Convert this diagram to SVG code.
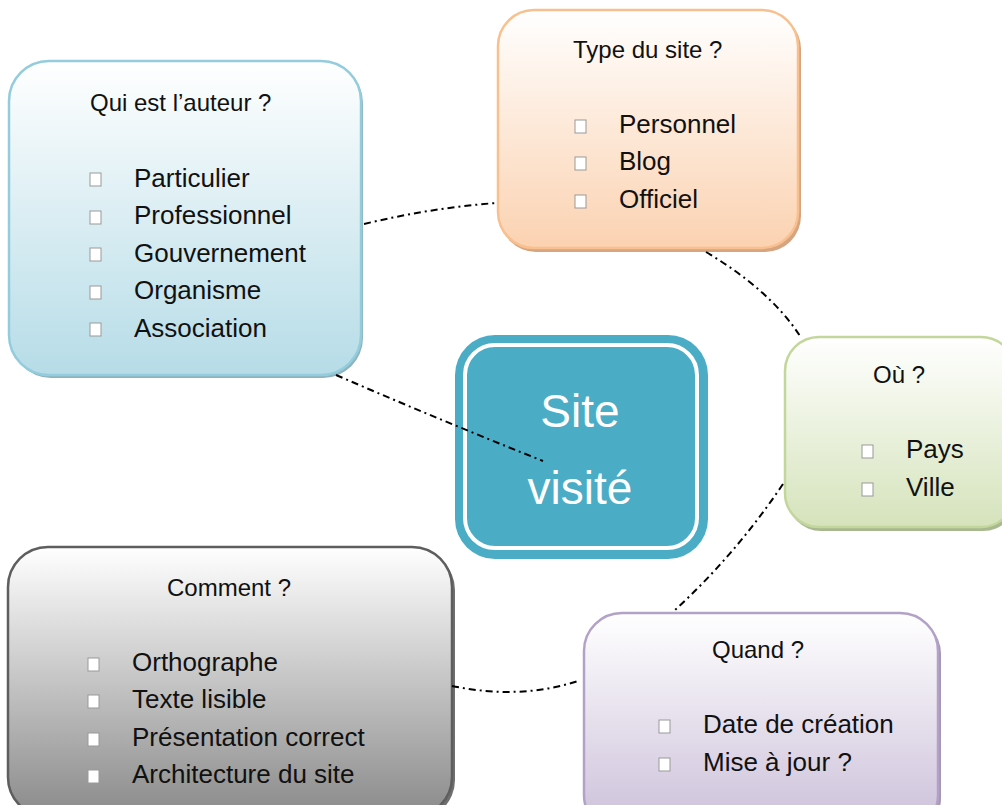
<svg xmlns="http://www.w3.org/2000/svg" width="1002" height="805" viewBox="0 0 1002 805">
<style>
  text { font-family: "Liberation Sans", Arial, sans-serif; fill: #111; }
  .h { font-size: 24px; }
  .li { font-size: 26px; }
  .big { font-size: 46px; fill: #fff; text-anchor: middle; }
  .bx { fill: #fff; stroke: #999; stroke-width: 1; }
  .conn { fill: none; stroke: #000; stroke-width: 2; stroke-dasharray: 7 4 2 4; }
</style>
<defs>
  <linearGradient id="gBlue" x1="0" y1="0" x2="0" y2="1"><stop offset="0" stop-color="#ffffff"/><stop offset="1" stop-color="#b6dce7"/></linearGradient>
  <linearGradient id="gOrange" x1="0" y1="0" x2="0" y2="1"><stop offset="0" stop-color="#ffffff"/><stop offset="1" stop-color="#fbd2b1"/></linearGradient>
  <linearGradient id="gGreen" x1="0" y1="0" x2="0" y2="1"><stop offset="0" stop-color="#ffffff"/><stop offset="1" stop-color="#d5e3bb"/></linearGradient>
  <linearGradient id="gGray" x1="0" y1="0" x2="0" y2="1"><stop offset="0" stop-color="#ffffff"/><stop offset="1" stop-color="#8a8a8a"/></linearGradient>
  <linearGradient id="gPurple" x1="0" y1="0" x2="0" y2="1"><stop offset="0" stop-color="#ffffff"/><stop offset="1" stop-color="#cbbfd9"/></linearGradient>
</defs>

<g id="node-qui">
  <rect x="11" y="63" width="352" height="315" rx="40" fill="#8fb3bd"/>
  <rect x="9" y="61" width="352" height="314" rx="40" fill="url(#gBlue)" stroke="#93cddd" stroke-width="2.5"/>
  <text class="h" x="90" y="111">Qui  est l’auteur ?</text>
  <rect class="bx" x="90" y="173" width="11" height="13"/>
  <rect class="bx" x="90" y="211" width="11" height="13"/>
  <rect class="bx" x="90" y="248" width="11" height="13"/>
  <rect class="bx" x="90" y="286" width="11" height="13"/>
  <rect class="bx" x="90" y="323" width="11" height="13"/>
  <text class="li" x="134" y="187">Particulier</text>
  <text class="li" x="134" y="224">Professionnel</text>
  <text class="li" x="134" y="262">Gouvernement</text>
  <text class="li" x="134" y="299">Organisme</text>
  <text class="li" x="134" y="337">Association</text>
</g>

<g id="node-type">
  <rect x="500" y="13" width="301" height="239" rx="36" fill="#d6a47f"/>
  <rect x="498" y="10" width="300" height="238" rx="36" fill="url(#gOrange)" stroke="#f9c08f" stroke-width="2.5"/>
  <text class="h" x="573" y="58">Type du site ?</text>
  <rect class="bx" x="575" y="120" width="11" height="13"/>
  <rect class="bx" x="575" y="157" width="11" height="13"/>
  <rect class="bx" x="575" y="195" width="11" height="13"/>
  <text class="li" x="619" y="133">Personnel</text>
  <text class="li" x="619" y="170">Blog</text>
  <text class="li" x="619" y="208">Officiel</text>
</g>

<g id="node-ou">
  <rect x="787" y="340" width="230" height="191" rx="34" fill="#a9b98f"/>
  <rect x="785" y="337" width="230" height="190" rx="34" fill="url(#gGreen)" stroke="#c3d69b" stroke-width="2.5"/>
  <text class="h" x="873" y="383">Où ?</text>
  <rect class="bx" x="862" y="445" width="11" height="13"/>
  <rect class="bx" x="862" y="483" width="11" height="13"/>
  <text class="li" x="906" y="458">Pays</text>
  <text class="li" x="906" y="496">Ville</text>
</g>

<g id="node-comment">
  <rect x="10" y="550" width="445" height="270" rx="40" fill="#6f6f6f"/>
  <rect x="8" y="547" width="444" height="270" rx="40" fill="url(#gGray)" stroke="#5e5e5e" stroke-width="2.5"/>
  <text class="h" x="167" y="596">Comment ?</text>
  <rect class="bx" x="88" y="658" width="11" height="13"/>
  <rect class="bx" x="88" y="695" width="11" height="13"/>
  <rect class="bx" x="88" y="733" width="11" height="13"/>
  <rect class="bx" x="88" y="770" width="11" height="13"/>
  <text class="li" x="132" y="671">Orthographe</text>
  <text class="li" x="132" y="708">Texte lisible</text>
  <text class="li" x="132" y="746">Présentation correct</text>
  <text class="li" x="132" y="783">Architecture du site</text>
</g>

<g id="node-quand">
  <rect x="586" y="616" width="355" height="220" rx="38" fill="#a597b5"/>
  <rect x="584" y="613" width="354" height="220" rx="38" fill="url(#gPurple)" stroke="#b3a2c7" stroke-width="2.5"/>
  <text class="h" x="712" y="658">Quand ?</text>
  <rect class="bx" x="659" y="720" width="11" height="13"/>
  <rect class="bx" x="659" y="758" width="11" height="13"/>
  <text class="li" x="703" y="733">Date de création</text>
  <text class="li" x="703" y="771">Mise à jour ?</text>
</g>

<g id="node-site">
  <rect x="455" y="335" width="253" height="224" rx="40" fill="#4bacc6"/>
  <rect x="465" y="345" width="232" height="203" rx="30" fill="#4bacc6" stroke="#ffffff" stroke-width="4"/>
  <text class="big" x="580" y="427">Site</text>
  <text class="big" x="580" y="504">visité</text>
</g>

<g id="connectors">
  <path class="conn" d="M 364 224 Q 430 208 496 203"/>
  <path class="conn" d="M 706 252 Q 770 290 800 336"/>
  <path class="conn" d="M 336 375 Q 440 420 543 461"/>
  <path class="conn" d="M 783 484 Q 735 555 675 610"/>
  <path class="conn" d="M 452 686 Q 520 700 578 681"/>
</g>
</svg>
